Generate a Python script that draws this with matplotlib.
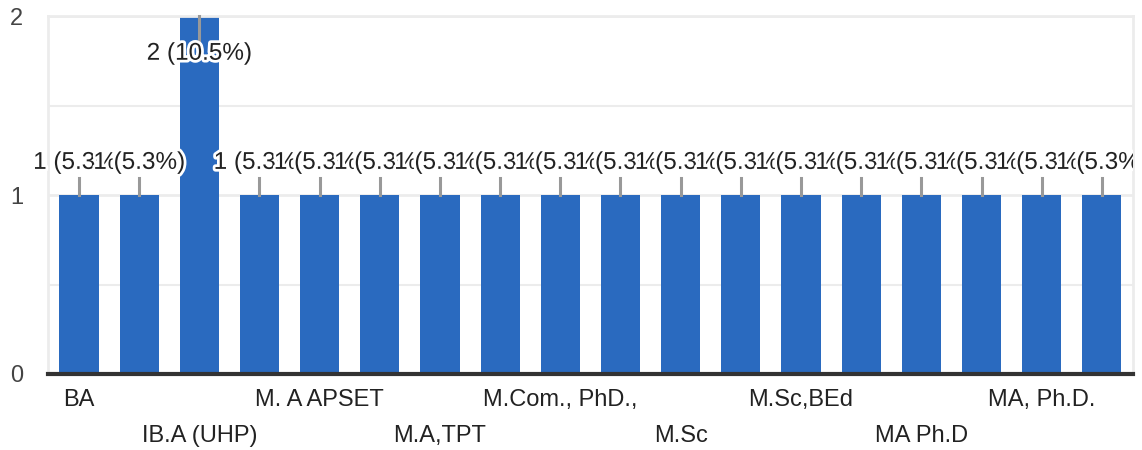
import matplotlib.pyplot as plt
import matplotlib.patheffects as pe
from matplotlib.patches import Rectangle

plt.rcParams['font.family'] = ['Liberation Sans', 'DejaVu Sans']

# only every other label is shown in the chart, the rest are hidden
categories = ["BA", "", "IB.A (UHP)", "", "M. A APSET", "", "M.A,TPT", "",
              "M.Com., PhD.,", "", "M.Sc", "", "M.Sc,BEd", "", "MA Ph.D", "",
              "MA, Ph.D.", ""]
counts = [1, 1, 2, 1, 1, 1, 1, 1, 1, 1, 1, 1, 1, 1, 1, 1, 1, 1]

total = sum(counts)
bar_color = '#2a6abf'

fig = plt.figure(figsize=(11.42, 4.5), dpi=100)
ax = fig.add_axes([0.042, 0.169, 0.95, 0.795])

x = list(range(len(counts)))
ax.bar(x, counts, width=0.65, color=bar_color, zorder=2)

ax.set_xlim(-0.515, len(counts) - 0.485)
ax.set_ylim(0, 2)

# grid
for yv in [0.5, 1.0, 1.5, 2.0]:
    ax.axhline(yv, color='#ececec', lw=2 if yv in (1.0, 2.0) else 1.5, zorder=1)
for s in ['left', 'right', 'top']:
    ax.spines[s].set_color('#ececec')
    ax.spines[s].set_linewidth(2)
ax.spines['bottom'].set_color('#333333')
ax.spines['bottom'].set_linewidth(3)
ax.spines['bottom'].set_zorder(3)

ax.set_yticks([0, 1, 2])
ax.set_yticklabels(['0', '1', '2'])
ax.tick_params(axis='y', length=0, pad=18, labelsize=17, labelcolor='#444444')
ax.set_xticks([])

# staggered category labels
for i, lab in enumerate(categories):
    if not lab:
        continue
    row = (i // 2) % 2
    yy = -0.145 if row == 0 else -0.345
    ax.text(i, yy, lab, ha='center', va='center', fontsize=17,
            color='#222222', clip_on=False)

# value labels with leader lines
clip_rect = Rectangle((0, 0), 0.992, 1, transform=fig.transFigure,
                      facecolor='none', edgecolor='none')
fig.add_artist(clip_rect)
for i, v in enumerate(counts):
    pct = v / total * 100
    label = f"{v} ({pct:.1f}%)"
    if v == max(counts) and v > 1:
        ax.plot([i, i], [v, v - 0.135], color='#999999', lw=2.2, zorder=3,
                clip_on=False)
        ty = v - 0.21
    else:
        ax.plot([i, i], [v, v + 0.095], color='#999999', lw=2.2, zorder=3,
                clip_on=False)
        ty = v + 0.18
    t = ax.text(i, ty, label, ha='center', va='center', fontsize=17.5,
                color='#222222', zorder=4,
                path_effects=[pe.withStroke(linewidth=4, foreground='white')])
    t.set_clip_on(True)
    t.set_clip_path(clip_rect)

fig.savefig('out.png', dpi=100)
